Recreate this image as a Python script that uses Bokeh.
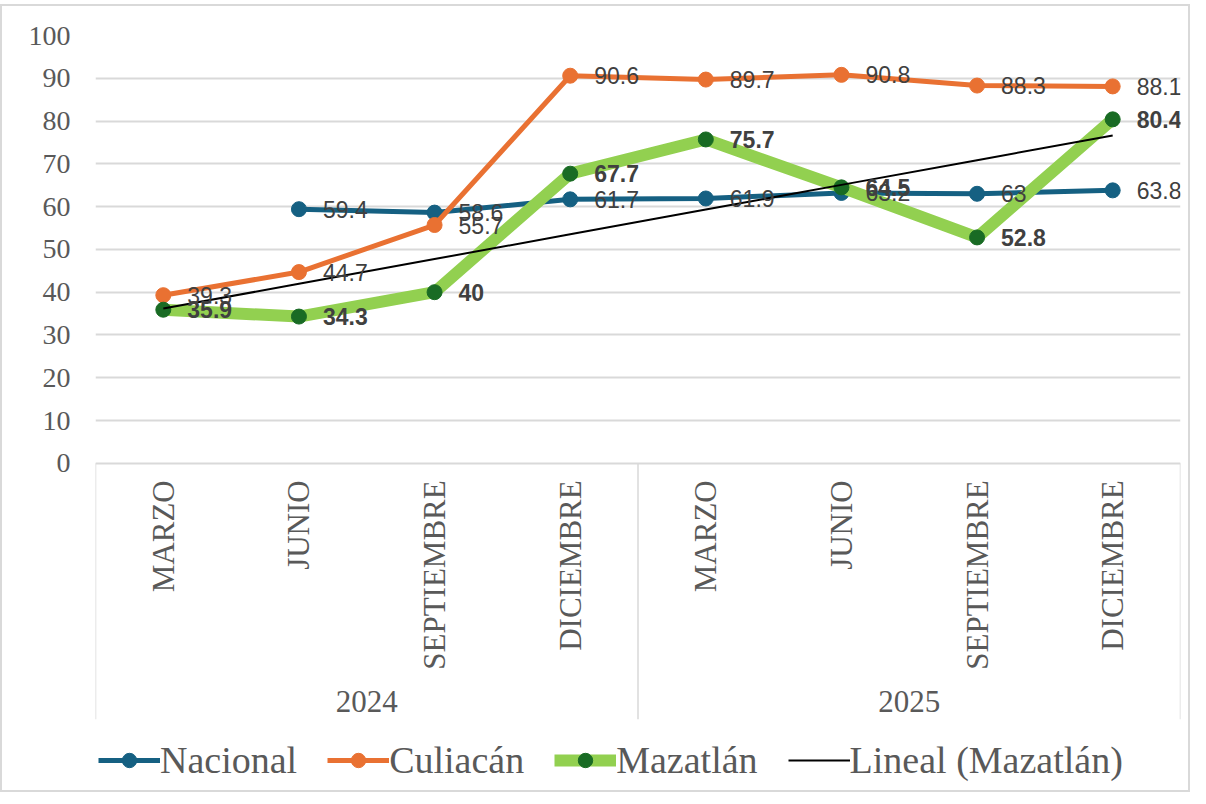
import numpy as np
from bokeh.plotting import figure
from bokeh.models import ColumnDataSource, Range1d, FixedTicker, Legend, LegendItem
from bokeh.core.properties import value
from bokeh.embed import file_html
from bokeh.resources import INLINE

# ---------------- data ----------------
years = ["2024", "2025"]
months = ["MARZO", "JUNIO", "SEPTIEMBRE", "DICIEMBRE",
          "MARZO", "JUNIO", "SEPTIEMBRE", "DICIEMBRE"]
months_per_year = 4
nacional = [np.nan, 59.4, 58.6, 61.7, 61.9, 63.2, 63.0, 63.8]
culiacan = [39.3, 44.7, 55.7, 90.6, 89.7, 90.8, 88.3, 88.1]
mazatlan = [35.9, 34.3, 40.0, 67.7, 75.7, 64.5, 52.8, 80.4]
y_ticks = [0, 10, 20, 30, 40, 50, 60, 70, 80, 90, 100]

# ---------------- layout constants ----------------
W, H = 1190, 788
LEFT, RIGHT, TOP, BOTTOM = 93, 12, 29, 0
PX = 4.278  # pixels per value unit
y_start = 100 - (H - TOP - BOTTOM) / PX

SERIF = "Liberation Serif"
SANS = "Liberation Sans"
AXIS_COLOR = "#595959"
LABEL_COLOR = "#404040"
GRID = "#d9d9d9"

x = np.arange(len(months))

p = figure(width=W, height=H, x_range=Range1d(-0.5, len(months) - 0.5),
           y_range=Range1d(y_start, 100), output_backend="svg",
           toolbar_location=None, x_axis_location=None,
           min_border_left=LEFT, min_border_right=RIGHT,
           min_border_top=TOP, min_border_bottom=BOTTOM)
p.outline_line_color = None
p.background_fill_color = "white"
p.border_fill_color = "white"
p.styles = {"border": "2px solid #d9d9d9", "margin-top": "4px"}

# y axis
p.yaxis.ticker = FixedTicker(ticks=y_ticks)
p.yaxis.axis_line_color = None
p.yaxis.major_tick_line_color = None
p.yaxis.minor_tick_line_color = None
p.yaxis.major_label_text_font = SERIF
p.yaxis.major_label_text_font_size = "28px"
p.yaxis.major_label_text_color = AXIS_COLOR
p.yaxis.major_label_standoff = 19

p.ygrid.ticker = FixedTicker(ticks=y_ticks)
p.ygrid.grid_line_color = GRID
p.ygrid.grid_line_width = 2
p.xgrid.visible = False

# category axis drawn in the frame below zero
sep_x = [-0.5 + i * months_per_year for i in range(len(years) + 1)]
sep_bottom = -(718 - 462.1) / PX
p.segment(x0=sep_x, y0=[0] * len(sep_x), x1=sep_x, y1=[sep_bottom] * len(sep_x),
          line_color=GRID, line_width=1.5)

p.text(x=x, y=[-17 / PX] * len(months), text=months, angle=np.pi / 2,
       text_align="right", text_baseline="middle",
       text_font=value(SERIF), text_font_size="31px", text_color=AXIS_COLOR)

year_x = [i * months_per_year + (months_per_year - 1) / 2 for i in range(len(years))]
p.text(x=year_x, y=[-(700 - 462.1) / PX] * len(years), text=years,
       text_align="center", text_baseline="middle",
       text_font=value(SERIF), text_font_size="31px", text_color=AXIS_COLOR)

# ---------------- series ----------------
C_NAC, C_CUL, C_MAZ_L, C_MAZ_M = "#156082", "#E97132", "#92D050", "#196B24"

nac_line = p.line(x, nacional, line_color=C_NAC, line_width=5)
nac_pts = p.scatter(x, nacional, marker="circle", size=15, fill_color=C_NAC, line_color=C_NAC)
cul_line = p.line(x, culiacan, line_color=C_CUL, line_width=5)
cul_pts = p.scatter(x, culiacan, marker="circle", size=15, fill_color=C_CUL, line_color=C_CUL)
maz_line = p.line(x, mazatlan, line_color=C_MAZ_L, line_width=12)
maz_pts = p.scatter(x, mazatlan, marker="circle", size=15, fill_color=C_MAZ_M, line_color=C_MAZ_M)

# linear trendline of Mazatlán
coef = np.polyfit(x + 1, mazatlan, 1)
trend = np.polyval(coef, x + 1)
tr_line = p.line(x, trend, line_color="black", line_width=2)

# data labels
def labels(vals, bold=False):
    xs = [xi for xi, v in zip(x, vals) if not np.isnan(v)]
    ys = [v for v in vals if not np.isnan(v)]
    ts = [f"{v:g}" for v in ys]
    src = ColumnDataSource(dict(x=xs, y=ys, t=ts))
    p.text(x="x", y="y", text="t", source=src, x_offset=24,
           text_align="left", text_baseline="middle",
           text_font=value(SANS), text_font_size="23px",
           text_font_style="bold" if bold else "normal", text_color=LABEL_COLOR)

labels(nacional)
labels(culiacan)
labels(mazatlan, bold=True)

# legend
legend = Legend(items=[
    LegendItem(label="Nacional", renderers=[nac_line, nac_pts]),
    LegendItem(label="Culiacán", renderers=[cul_line, cul_pts]),
    LegendItem(label="Mazatlán", renderers=[maz_line, maz_pts]),
    LegendItem(label="Lineal (Mazatlán)", renderers=[tr_line]),
], orientation="horizontal", location=(3, 12),
   label_text_font=SERIF, label_text_font_size="38px", label_text_color=AXIS_COLOR,
   glyph_width=62, glyph_height=36, spacing=30, label_standoff=0,
   padding=0, margin=0, border_line_color=None, background_fill_alpha=0)
p.add_layout(legend)

open("out.html", "w").write(file_html(p, INLINE))
